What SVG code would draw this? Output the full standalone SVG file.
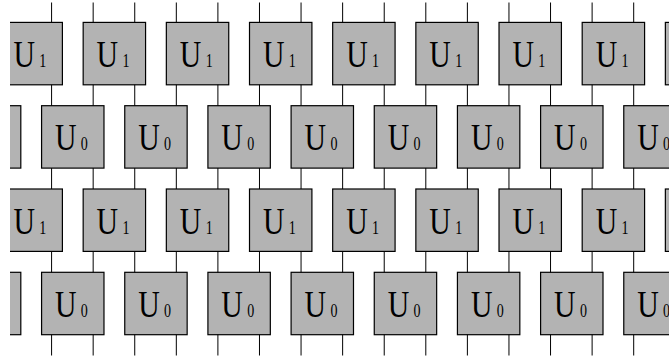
<svg xmlns="http://www.w3.org/2000/svg" width="669" height="358" viewBox="0 0 669 358">
<style>
.box{fill:#b3b3b3;stroke:#000;stroke-width:1.2}
.w{stroke:#000;stroke-width:1}
.u{font-family:"Liberation Serif","Times New Roman",serif;font-size:38.2px;fill:#000;text-anchor:middle}
.s{font-family:"Liberation Serif","Times New Roman",serif;font-size:18px;fill:#000;text-anchor:middle}
</style>
<defs>
<clipPath id="clip"><rect x="10" y="0" width="659" height="358"/></clipPath>
</defs>
<rect width="669" height="358" fill="#fff"/>
<g clip-path="url(#clip)">
<g id="connectors">
<line class="w" x1="51.58" y1="2.5" x2="51.58" y2="355.5"/>
<line class="w" x1="93.16" y1="2.5" x2="93.16" y2="355.5"/>
<line class="w" x1="134.74" y1="2.5" x2="134.74" y2="355.5"/>
<line class="w" x1="176.32" y1="2.5" x2="176.32" y2="355.5"/>
<line class="w" x1="217.9" y1="2.5" x2="217.9" y2="355.5"/>
<line class="w" x1="259.48" y1="2.5" x2="259.48" y2="355.5"/>
<line class="w" x1="301.06" y1="2.5" x2="301.06" y2="355.5"/>
<line class="w" x1="342.64" y1="2.5" x2="342.64" y2="355.5"/>
<line class="w" x1="384.22" y1="2.5" x2="384.22" y2="355.5"/>
<line class="w" x1="425.8" y1="2.5" x2="425.8" y2="355.5"/>
<line class="w" x1="467.38" y1="2.5" x2="467.38" y2="355.5"/>
<line class="w" x1="508.96" y1="2.5" x2="508.96" y2="355.5"/>
<line class="w" x1="550.54" y1="2.5" x2="550.54" y2="355.5"/>
<line class="w" x1="592.12" y1="2.5" x2="592.12" y2="355.5"/>
<line class="w" x1="633.7" y1="2.5" x2="633.7" y2="355.5"/>
</g>
<!-- Row 1: U1 -->
<g id="r1-0" transform="translate(0,22.4)"><rect class="box" width="62.4" height="62.4"/><text class="u" transform="translate(24.2,44.5) scale(0.78,1)">U</text><text class="s" transform="translate(42.8,44.5) scale(0.78,1)">1</text></g>
<g id="r1-1" transform="translate(83.17,22.4)"><rect class="box" width="62.4" height="62.4"/><text class="u" transform="translate(24.2,44.5) scale(0.78,1)">U</text><text class="s" transform="translate(42.8,44.5) scale(0.78,1)">1</text></g>
<g id="r1-2" transform="translate(166.34,22.4)"><rect class="box" width="62.4" height="62.4"/><text class="u" transform="translate(24.2,44.5) scale(0.78,1)">U</text><text class="s" transform="translate(42.8,44.5) scale(0.78,1)">1</text></g>
<g id="r1-3" transform="translate(249.51,22.4)"><rect class="box" width="62.4" height="62.4"/><text class="u" transform="translate(24.2,44.5) scale(0.78,1)">U</text><text class="s" transform="translate(42.8,44.5) scale(0.78,1)">1</text></g>
<g id="r1-4" transform="translate(332.68,22.4)"><rect class="box" width="62.4" height="62.4"/><text class="u" transform="translate(24.2,44.5) scale(0.78,1)">U</text><text class="s" transform="translate(42.8,44.5) scale(0.78,1)">1</text></g>
<g id="r1-5" transform="translate(415.85,22.4)"><rect class="box" width="62.4" height="62.4"/><text class="u" transform="translate(24.2,44.5) scale(0.78,1)">U</text><text class="s" transform="translate(42.8,44.5) scale(0.78,1)">1</text></g>
<g id="r1-6" transform="translate(499.02,22.4)"><rect class="box" width="62.4" height="62.4"/><text class="u" transform="translate(24.2,44.5) scale(0.78,1)">U</text><text class="s" transform="translate(42.8,44.5) scale(0.78,1)">1</text></g>
<g id="r1-7" transform="translate(582.19,22.4)"><rect class="box" width="62.4" height="62.4"/><text class="u" transform="translate(24.2,44.5) scale(0.78,1)">U</text><text class="s" transform="translate(42.8,44.5) scale(0.78,1)">1</text></g>
<g id="r1-8" transform="translate(665.36,22.4)"><rect class="box" width="62.4" height="62.4"/></g>
<!-- Row 2: U0 -->
<g id="r2-m1" transform="translate(-41.59,105.7)"><rect class="box" width="62.4" height="62.4"/></g>
<g id="r2-0" transform="translate(41.58,105.7)"><rect class="box" width="62.4" height="62.4"/><text class="u" transform="translate(24.2,44.5) scale(0.78,1)">U</text><text class="s" transform="translate(42.8,44.5) scale(0.78,1)">0</text></g>
<g id="r2-1" transform="translate(124.75,105.7)"><rect class="box" width="62.4" height="62.4"/><text class="u" transform="translate(24.2,44.5) scale(0.78,1)">U</text><text class="s" transform="translate(42.8,44.5) scale(0.78,1)">0</text></g>
<g id="r2-2" transform="translate(207.92,105.7)"><rect class="box" width="62.4" height="62.4"/><text class="u" transform="translate(24.2,44.5) scale(0.78,1)">U</text><text class="s" transform="translate(42.8,44.5) scale(0.78,1)">0</text></g>
<g id="r2-3" transform="translate(291.09,105.7)"><rect class="box" width="62.4" height="62.4"/><text class="u" transform="translate(24.2,44.5) scale(0.78,1)">U</text><text class="s" transform="translate(42.8,44.5) scale(0.78,1)">0</text></g>
<g id="r2-4" transform="translate(374.26,105.7)"><rect class="box" width="62.4" height="62.4"/><text class="u" transform="translate(24.2,44.5) scale(0.78,1)">U</text><text class="s" transform="translate(42.8,44.5) scale(0.78,1)">0</text></g>
<g id="r2-5" transform="translate(457.43,105.7)"><rect class="box" width="62.4" height="62.4"/><text class="u" transform="translate(24.2,44.5) scale(0.78,1)">U</text><text class="s" transform="translate(42.8,44.5) scale(0.78,1)">0</text></g>
<g id="r2-6" transform="translate(540.6,105.7)"><rect class="box" width="62.4" height="62.4"/><text class="u" transform="translate(24.2,44.5) scale(0.78,1)">U</text><text class="s" transform="translate(42.8,44.5) scale(0.78,1)">0</text></g>
<g id="r2-7" transform="translate(623.77,105.7)"><rect class="box" width="62.4" height="62.4"/><text class="u" transform="translate(24.2,44.5) scale(0.78,1)">U</text><text class="s" transform="translate(42.8,44.5) scale(0.78,1)">0</text></g>
<!-- Row 3: U1 -->
<g id="r3-0" transform="translate(0,189)"><rect class="box" width="62.4" height="62.4"/><text class="u" transform="translate(24.2,44.5) scale(0.78,1)">U</text><text class="s" transform="translate(42.8,44.5) scale(0.78,1)">1</text></g>
<g id="r3-1" transform="translate(83.17,189)"><rect class="box" width="62.4" height="62.4"/><text class="u" transform="translate(24.2,44.5) scale(0.78,1)">U</text><text class="s" transform="translate(42.8,44.5) scale(0.78,1)">1</text></g>
<g id="r3-2" transform="translate(166.34,189)"><rect class="box" width="62.4" height="62.4"/><text class="u" transform="translate(24.2,44.5) scale(0.78,1)">U</text><text class="s" transform="translate(42.8,44.5) scale(0.78,1)">1</text></g>
<g id="r3-3" transform="translate(249.51,189)"><rect class="box" width="62.4" height="62.4"/><text class="u" transform="translate(24.2,44.5) scale(0.78,1)">U</text><text class="s" transform="translate(42.8,44.5) scale(0.78,1)">1</text></g>
<g id="r3-4" transform="translate(332.68,189)"><rect class="box" width="62.4" height="62.4"/><text class="u" transform="translate(24.2,44.5) scale(0.78,1)">U</text><text class="s" transform="translate(42.8,44.5) scale(0.78,1)">1</text></g>
<g id="r3-5" transform="translate(415.85,189)"><rect class="box" width="62.4" height="62.4"/><text class="u" transform="translate(24.2,44.5) scale(0.78,1)">U</text><text class="s" transform="translate(42.8,44.5) scale(0.78,1)">1</text></g>
<g id="r3-6" transform="translate(499.02,189)"><rect class="box" width="62.4" height="62.4"/><text class="u" transform="translate(24.2,44.5) scale(0.78,1)">U</text><text class="s" transform="translate(42.8,44.5) scale(0.78,1)">1</text></g>
<g id="r3-7" transform="translate(582.19,189)"><rect class="box" width="62.4" height="62.4"/><text class="u" transform="translate(24.2,44.5) scale(0.78,1)">U</text><text class="s" transform="translate(42.8,44.5) scale(0.78,1)">1</text></g>
<g id="r3-8" transform="translate(665.36,189)"><rect class="box" width="62.4" height="62.4"/></g>
<!-- Row 4: U0 -->
<g id="r4-m1" transform="translate(-41.59,272.3)"><rect class="box" width="62.4" height="62.4"/></g>
<g id="r4-0" transform="translate(41.58,272.3)"><rect class="box" width="62.4" height="62.4"/><text class="u" transform="translate(24.2,44.5) scale(0.78,1)">U</text><text class="s" transform="translate(42.8,44.5) scale(0.78,1)">0</text></g>
<g id="r4-1" transform="translate(124.75,272.3)"><rect class="box" width="62.4" height="62.4"/><text class="u" transform="translate(24.2,44.5) scale(0.78,1)">U</text><text class="s" transform="translate(42.8,44.5) scale(0.78,1)">0</text></g>
<g id="r4-2" transform="translate(207.92,272.3)"><rect class="box" width="62.4" height="62.4"/><text class="u" transform="translate(24.2,44.5) scale(0.78,1)">U</text><text class="s" transform="translate(42.8,44.5) scale(0.78,1)">0</text></g>
<g id="r4-3" transform="translate(291.09,272.3)"><rect class="box" width="62.4" height="62.4"/><text class="u" transform="translate(24.2,44.5) scale(0.78,1)">U</text><text class="s" transform="translate(42.8,44.5) scale(0.78,1)">0</text></g>
<g id="r4-4" transform="translate(374.26,272.3)"><rect class="box" width="62.4" height="62.4"/><text class="u" transform="translate(24.2,44.5) scale(0.78,1)">U</text><text class="s" transform="translate(42.8,44.5) scale(0.78,1)">0</text></g>
<g id="r4-5" transform="translate(457.43,272.3)"><rect class="box" width="62.4" height="62.4"/><text class="u" transform="translate(24.2,44.5) scale(0.78,1)">U</text><text class="s" transform="translate(42.8,44.5) scale(0.78,1)">0</text></g>
<g id="r4-6" transform="translate(540.6,272.3)"><rect class="box" width="62.4" height="62.4"/><text class="u" transform="translate(24.2,44.5) scale(0.78,1)">U</text><text class="s" transform="translate(42.8,44.5) scale(0.78,1)">0</text></g>
<g id="r4-7" transform="translate(623.77,272.3)"><rect class="box" width="62.4" height="62.4"/><text class="u" transform="translate(24.2,44.5) scale(0.78,1)">U</text><text class="s" transform="translate(42.8,44.5) scale(0.78,1)">0</text></g>
</g>
</svg>
